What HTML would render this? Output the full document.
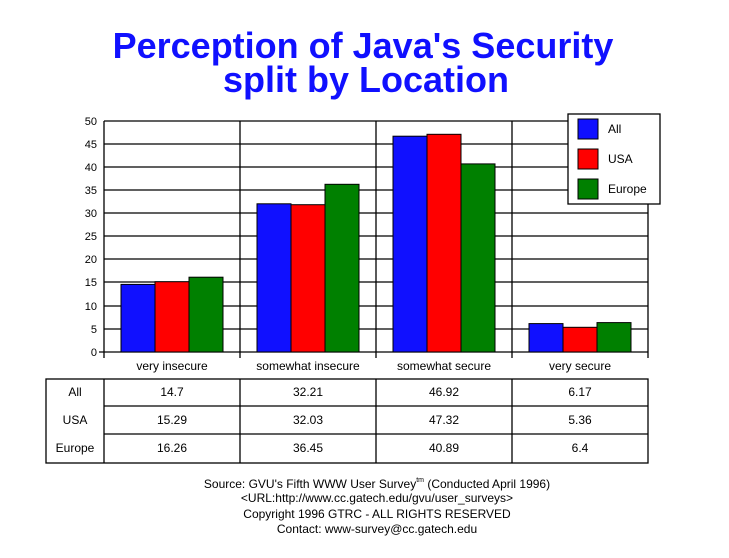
<!DOCTYPE html>
<html><head><style>
body{margin:0;background:#fff;width:729px;height:553px;overflow:hidden;font-family:"Liberation Sans",Arial,sans-serif}
</style></head><body>
<svg width="729" height="553" xmlns="http://www.w3.org/2000/svg" font-family="Liberation Sans, Arial, sans-serif">
<text x="363" y="58" text-anchor="middle" font-size="36" font-weight="bold" fill="#1010ff">Perception of Java's Security</text>
<text x="366" y="92" text-anchor="middle" font-size="36" font-weight="bold" fill="#1010ff">split by Location</text>
<g stroke="#000" stroke-width="1.3">
<line x1="104" y1="121" x2="648" y2="121"/>
<line x1="104" y1="144" x2="648" y2="144"/>
<line x1="104" y1="167" x2="648" y2="167"/>
<line x1="104" y1="190" x2="648" y2="190"/>
<line x1="104" y1="213" x2="648" y2="213"/>
<line x1="104" y1="236" x2="648" y2="236"/>
<line x1="104" y1="259" x2="648" y2="259"/>
<line x1="104" y1="282" x2="648" y2="282"/>
<line x1="104" y1="306" x2="648" y2="306"/>
<line x1="104" y1="329" x2="648" y2="329"/>
<line x1="99" y1="352" x2="648" y2="352"/>
<line x1="104" y1="121" x2="104" y2="358"/>
<line x1="240" y1="121" x2="240" y2="358"/>
<line x1="376" y1="121" x2="376" y2="358"/>
<line x1="512" y1="121" x2="512" y2="358"/>
<line x1="648" y1="121" x2="648" y2="358"/>
</g>
<g font-size="11" text-anchor="end">
<text x="97" y="125">50</text><text x="97" y="148">45</text><text x="97" y="171">40</text><text x="97" y="194">35</text><text x="97" y="217">30</text><text x="97" y="240">25</text><text x="97" y="263">20</text><text x="97" y="286">15</text><text x="97" y="310">10</text><text x="97" y="333">5</text><text x="97" y="356">0</text>
</g>
<g stroke="#000" stroke-width="1">
<rect x="121" y="284.4" width="34" height="67.6" fill="#1010ff"/>
<rect x="155" y="281.7" width="34" height="70.3" fill="#ff0000"/>
<rect x="189" y="277.2" width="34" height="74.8" fill="#008000"/>
<rect x="257" y="203.8" width="34" height="148.2" fill="#1010ff"/>
<rect x="291" y="204.7" width="34" height="147.3" fill="#ff0000"/>
<rect x="325" y="184.3" width="34" height="167.7" fill="#008000"/>
<rect x="393" y="136.2" width="34" height="215.8" fill="#1010ff"/>
<rect x="427" y="134.3" width="34" height="217.7" fill="#ff0000"/>
<rect x="461" y="163.9" width="34" height="188.1" fill="#008000"/>
<rect x="529" y="323.6" width="34" height="28.4" fill="#1010ff"/>
<rect x="563" y="327.3" width="34" height="24.7" fill="#ff0000"/>
<rect x="597" y="322.6" width="34" height="29.4" fill="#008000"/>
</g>
<rect x="568" y="114" width="92" height="90" fill="#fff" stroke="#000" stroke-width="1.3"/>
<g stroke="#000"><rect x="578" y="119" width="20" height="20" fill="#1010ff"/><rect x="578" y="149" width="20" height="20" fill="#ff0000"/><rect x="578" y="179" width="20" height="20" fill="#008000"/></g>
<g font-size="12"><text x="608" y="133">All</text><text x="608" y="163">USA</text><text x="608" y="193">Europe</text></g>
<g font-size="12" text-anchor="middle">
<text x="172" y="370">very insecure</text><text x="308" y="370">somewhat insecure</text><text x="444" y="370">somewhat secure</text><text x="580" y="370">very secure</text>
</g>
<g stroke="#000" stroke-width="1.3" fill="none">
<rect x="46" y="379" width="602" height="84"/>
<line x1="104" y1="379" x2="104" y2="463"/><line x1="240" y1="379" x2="240" y2="463"/><line x1="376" y1="379" x2="376" y2="463"/><line x1="512" y1="379" x2="512" y2="463"/>
<line x1="104" y1="406" x2="648" y2="406"/><line x1="104" y1="434" x2="648" y2="434"/>
</g>
<g font-size="12" text-anchor="middle">
<text x="75" y="396">All</text><text x="75" y="424">USA</text><text x="75" y="452">Europe</text>
<text x="172" y="396">14.7</text><text x="308" y="396">32.21</text><text x="444" y="396">46.92</text><text x="580" y="396">6.17</text>
<text x="172" y="424">15.29</text><text x="308" y="424">32.03</text><text x="444" y="424">47.32</text><text x="580" y="424">5.36</text>
<text x="172" y="452">16.26</text><text x="308" y="452">36.45</text><text x="444" y="452">40.89</text><text x="580" y="452">6.4</text>
</g>
<g font-size="12" text-anchor="middle">
<text x="377" y="488">Source: GVU's Fifth WWW User Survey<tspan font-size="7" dy="-6">tm</tspan><tspan dy="6">  (Conducted April 1996)</tspan></text>
<text x="377" y="502">&lt;URL:http://www.cc.gatech.edu/gvu/user_surveys&gt;</text>
<text x="377" y="518">Copyright 1996 GTRC -  ALL RIGHTS RESERVED</text>
<text x="377" y="533">Contact: www-survey@cc.gatech.edu</text>
</g>
</svg>
</body></html>
